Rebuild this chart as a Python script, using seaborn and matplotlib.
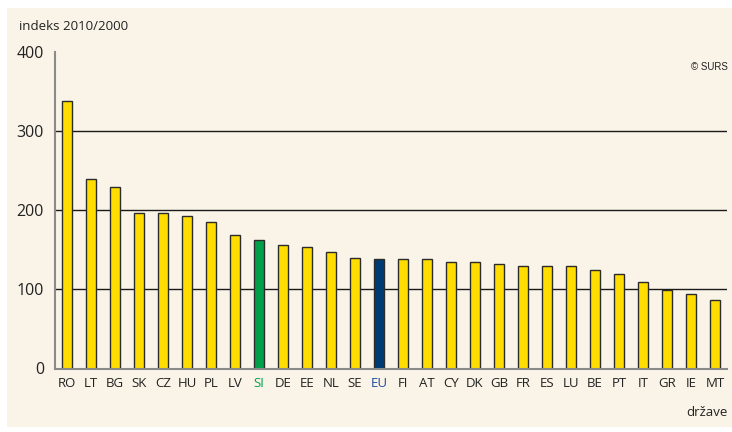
import matplotlib
matplotlib.use("Agg")
import matplotlib.pyplot as plt
import seaborn as sns
import pandas as pd
from matplotlib.patches import Rectangle

countries = ["RO", "LT", "BG", "SK", "CZ", "HU", "PL", "LV", "SI", "DE", "EE", "NL", "SE", "EU",
             "FI", "AT", "CY", "DK", "GB", "FR", "ES", "LU", "BE", "PT", "IT", "GR", "IE", "MT"]
values = [338, 239, 229, 197, 197, 193, 185, 169, 162, 156, 153, 147, 140, 139,
          139, 138, 135, 134, 132, 130, 130, 130, 124, 119, 109, 99, 94, 87]
yticks = [0, 100, 200, 300, 400]

YELLOW = "#FFDD00"
GREEN = "#00A04B"
NAVY = "#003A72"
CREAM = "#FAF4E8"

bar_colors = {c: YELLOW for c in countries}
bar_colors["SI"] = GREEN
bar_colors["EU"] = NAVY
label_colors = {"SI": "#00A04B", "EU": "#1F4E99"}

df = pd.DataFrame({"country": countries, "value": values})

sns.set_theme(style="white")
plt.rcParams["font.family"] = ["Open Sans", "DejaVu Sans"]

fig = plt.figure(figsize=(7.32, 4.32), dpi=100, facecolor="white")
fig.patches.append(Rectangle((7 / 732, 5 / 432), 1 - 7 / 732, (427 - 8) / 432,
                             transform=fig.transFigure, facecolor=CREAM,
                             edgecolor="none", zorder=-10))
ax = fig.add_axes([55 / 732, (432 - 368.5) / 432, (727 - 55) / 732, (368.5 - 52) / 432])
ax.set_facecolor("none")
ax.set_zorder(1)

sns.barplot(data=df, x="country", y="value", hue="country", palette=bar_colors,
            legend=False, width=0.39, edgecolor="#2b2b2b", linewidth=1.0,
            saturation=1, ax=ax, zorder=3)

ax.set_xlim(-0.5, len(countries) - 0.5)
ax.set_ylim(0, 400)
ax.set_yticks(yticks)
ax.set_yticklabels([str(t) for t in yticks], fontsize=11.5, color="#222222")
ax.yaxis.grid(True, color="#1a1a1a", linewidth=1.0, zorder=1)
ax.set_axisbelow(True)
ax.yaxis.get_gridlines()[-1].set_visible(False)
ax.yaxis.get_gridlines()[0].set_visible(False)

ax.tick_params(axis="y", length=5, width=1.0, color="#7f7f7f", pad=3)
ax.tick_params(axis="x", length=0, pad=6, labelsize=9.5)
for lbl in ax.get_xticklabels():
    lbl.set_color(label_colors.get(lbl.get_text(), "#222222"))

for side in ["top", "right"]:
    ax.spines[side].set_visible(False)
ax.spines["left"].set_color("#8a8a8a")
ax.spines["left"].set_linewidth(1.5)
ax.spines["bottom"].set_color("#8a8a8a")
ax.spines["bottom"].set_linewidth(1.5)
ax.spines["bottom"].set_zorder(4)

ax.set_xlabel("")
ax.set_ylabel("")

fig.text(19 / 732, 1 - 26 / 432, "indeks 2010/2000", fontsize=9.5, color="#222222",
         ha="left", va="center")
fig.text(728 / 732, 1 - 67 / 432, "© SURS", fontsize=7, color="#222222",
         ha="right", va="center", family=["Liberation Sans", "DejaVu Sans"])
fig.text(728 / 732, 1 - 412 / 432, "države", fontsize=9.5, color="#222222",
         ha="right", va="center")

fig.savefig("out.png", dpi=100, facecolor="white")
